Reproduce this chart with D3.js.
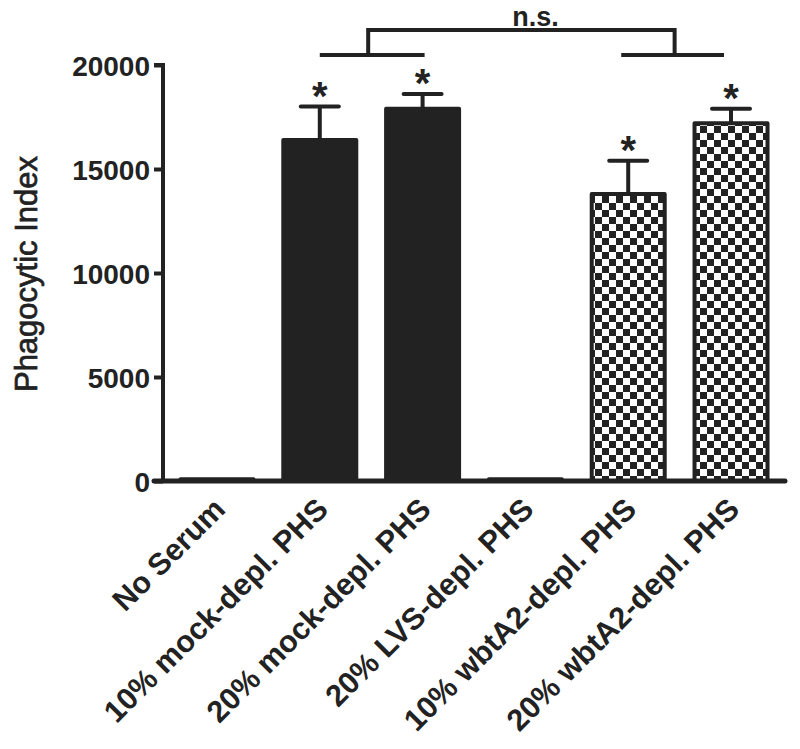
<!DOCTYPE html>
<html><head><meta charset="utf-8">
<script src="https://cdn.jsdelivr.net/npm/d3@7"></script>
<style>body{margin:0;background:#fff}svg{display:block}text{font-family:"Liberation Sans",Arial,sans-serif;font-weight:bold;fill:#222}</style>
</head><body><svg id="c" width="800" height="749"></svg>
<script>
const categories = ["No Serum","10% mock-depl. PHS","20% mock-depl. PHS","20% LVS-depl. PHS","10% wbtA2-depl. PHS","20% wbtA2-depl. PHS"];
const means = [80, 16400, 17900, 80, 13800, 17200];
const errors = [0, 1600, 700, 0, 1600, 700];
const patterns = ["solid","solid","solid","solid","checker","checker"];
const significant = [false,true,true,false,true,true];
const yTicks = [0,5000,10000,15000,20000];

const col = "#222";
const svg = d3.select("#c");
const defs = svg.append("defs");
const pat = defs.append("pattern").attr("id","chk").attr("patternUnits","userSpaceOnUse")
  .attr("width",14).attr("height",14);
pat.append("rect").attr("width",14).attr("height",14).attr("fill","#fff");
pat.append("rect").attr("width",7).attr("height",7).attr("fill",col);
pat.append("rect").attr("x",7).attr("y",7).attr("width",7).attr("height",7).attr("fill",col);

const x = d3.scaleBand().domain(categories).range([163,785]).paddingInner(0.29).paddingOuter(0.17);
const y = d3.scaleLinear().domain([0,20000]).range([481,65]);

// bars
svg.selectAll("rect.bar").data(categories).join("rect").attr("class","bar")
  .attr("x",d=>x(d)).attr("width",x.bandwidth())
  .attr("y",(d,i)=>y(means[i])).attr("height",(d,i)=>y(0)-y(means[i]))
  .attr("fill",(d,i)=>patterns[i]==="checker"?"url(#chk)":col)
  .attr("stroke",col).attr("stroke-width",4).attr("stroke-linejoin","round");

// error bars
const cw = 38;
categories.forEach((c,i)=>{
  if(!errors[i]) return;
  const cx = x(c)+x.bandwidth()/2;
  const ty = y(means[i]+errors[i]);
  svg.append("line").attr("x1",cx).attr("x2",cx).attr("y1",y(means[i])).attr("y2",ty)
    .attr("stroke",col).attr("stroke-width",4);
  svg.append("line").attr("x1",cx-cw/2).attr("x2",cx+cw/2).attr("y1",ty).attr("y2",ty)
    .attr("stroke",col).attr("stroke-width",4).attr("stroke-linecap","round");
  if(significant[i]) svg.append("text").attr("x",cx).attr("y",ty+3)
    .attr("text-anchor","middle").attr("font-size",40).text("*");
});

// axes
const yAxis = svg.append("g").attr("transform","translate(163,0)")
  .call(d3.axisLeft(y).tickValues(yTicks).tickSize(9).tickPadding(4).tickFormat(d3.format("d")));
yAxis.select(".domain").attr("stroke",col).attr("stroke-width",4).attr("d","M-9,65H0V481");
yAxis.selectAll(".tick line").attr("stroke",col).attr("stroke-width",4);
yAxis.selectAll(".tick text").attr("font-size",28).attr("fill",col).attr("font-family",'"Liberation Sans",Arial,sans-serif').attr("font-weight","bold").attr("dy","0.36em");

svg.append("line").attr("x1",154).attr("x2",785).attr("y1",481).attr("y2",481)
  .attr("stroke",col).attr("stroke-width",5).attr("stroke-linecap","round");

// x labels
svg.selectAll("text.xl").data(categories).join("text").attr("class","xl")
  .attr("transform",d=>`translate(${x(d)+x.bandwidth()/2+10},${511}) rotate(-45)`)
  .attr("text-anchor","end").attr("font-size",30.5).text(d=>d);

// y label
svg.append("text").attr("transform","translate(37,274) rotate(-90)").attr("text-anchor","middle")
  .attr("font-size",31).style("font-weight","normal").attr("stroke",col).attr("stroke-width",0.7)
  .text("Phagocytic Index");

// brackets
const cxs = categories.map(c=>x(c)+x.bandwidth()/2);
const lowY = 55, topY = 30;
const g1 = [cxs[1], cxs[2]+2], g2 = [cxs[4]-7, cxs[5]-7];
const mid1 = (g1[0]+g1[1])/2 - 4, mid2 = (g2[0]+g2[1])/2 + 2;
const line = (x1,y1,x2,y2)=>svg.append("line").attr("x1",x1).attr("y1",y1).attr("x2",x2).attr("y2",y2).attr("stroke",col).attr("stroke-width",4);
line(g1[0],lowY,g1[1],lowY);
line(g2[0],lowY,g2[1],lowY);
svg.append("path").attr("d",`M${mid1},${lowY}V${topY}H${mid2}V${lowY}`).attr("fill","none").attr("stroke",col).attr("stroke-width",4);
svg.append("text").attr("x",(mid1+mid2)/2+14).attr("y",26).attr("text-anchor","middle").attr("font-size",27).text("n.s.");
</script></body></html>
